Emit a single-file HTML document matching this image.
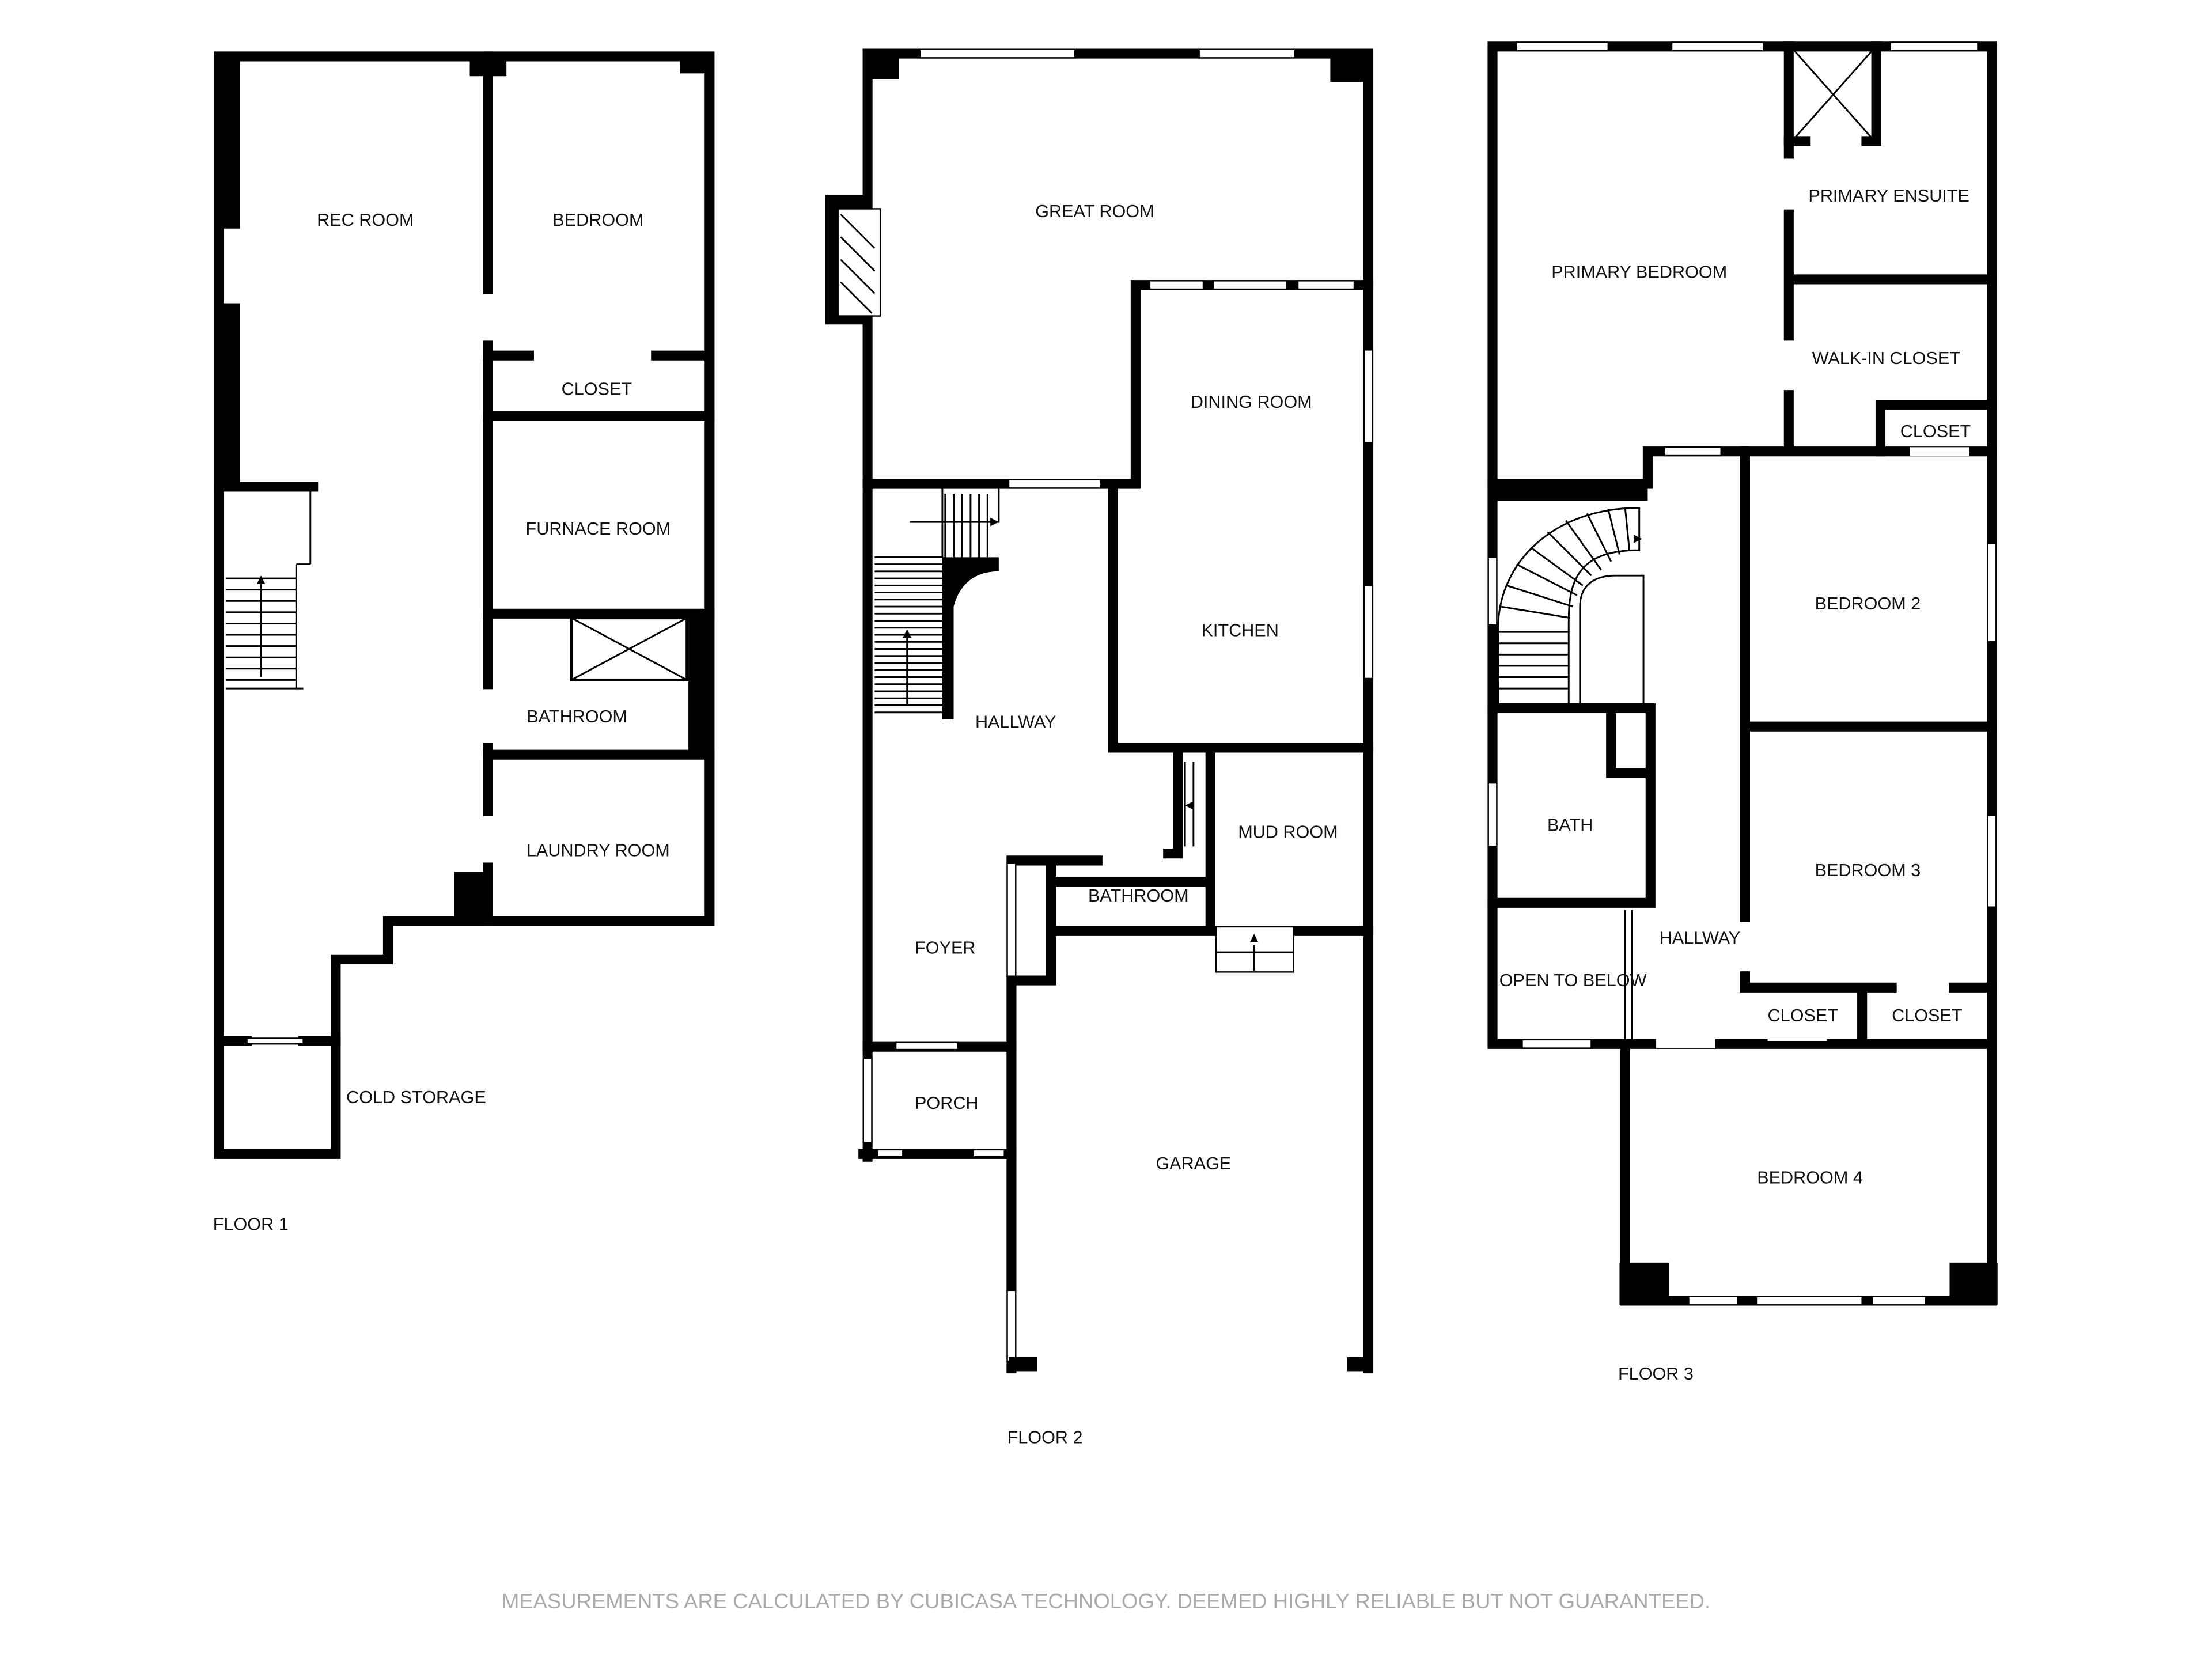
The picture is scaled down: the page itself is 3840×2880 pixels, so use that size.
<!DOCTYPE html>
<html><head><meta charset="utf-8"><style>
html,body{margin:0;padding:0;background:#fff}
svg{display:block}
text{font-family:"Liberation Sans",sans-serif;font-size:12.5px;fill:#111;text-anchor:middle}
.w{stroke:#000;stroke-width:7;fill:none;stroke-linecap:square}
.t{stroke:#000;stroke-width:1.2;fill:none}
.win{fill:#fff;stroke:#000;stroke-width:1}
</style></head><body>
<svg width="3840" height="2880" viewBox="0 0 1568 1176" xmlns="http://www.w3.org/2000/svg">
<rect width="1568" height="1176" fill="#fff"/>
<!-- FLOOR 1 -->
<g>
<path class="w" d="M155 40H503V653H275V680H238V818H155V40"/>
<rect x="152" y="37" width="18" height="125" fill="#000"/>
<rect x="152" y="215" width="18" height="128" fill="#000"/>
<rect x="322" y="618" width="24" height="38" fill="#000"/>
<rect x="333" y="40" width="26" height="14" fill="#000"/>
<rect x="482" y="40" width="20" height="12" fill="#000"/>
<path class="w" d="M346 40V205M346 245V485M346 530V575M346 615V653"/>
<path class="w" d="M346 295H503M346 435H503M346 535H503M346 252H375M465 252H500"/>
<rect x="488" y="435" width="15" height="100" fill="#000"/>
<rect x="405" y="438" width="82" height="44" fill="none" stroke="#000" stroke-width="2"/>
<path class="t" d="M405 438L487 482M487 438L405 482"/>
<path class="w" d="M155 345H222M155 738H175M215 738H238"/>
<rect x="175" y="736" width="40" height="4" class="win"/>
<path class="t" d="M220 345V400M210 400H220M210 400V488M160 488H215"/>
<path class="t" d="M160 410H210M160 418H210M160 426H210M160 434H210M160 442H210M160 450H210M160 458H210M160 466H210M160 474H210M160 482H210M185 412V480"/>
<path d="M185 408l-3 6h6z" fill="#000"/>
<text x="259" y="160">REC ROOM</text><text x="424" y="160">BEDROOM</text>
<text x="423" y="280">CLOSET</text><text x="424" y="379">FURNACE ROOM</text>
<text x="409" y="512">BATHROOM</text><text x="424" y="607">LAUNDRY ROOM</text>
<text x="295" y="782">COLD STORAGE</text>
<text x="151" y="872" style="text-anchor:start">FLOOR 1</text>
</g>
<!-- FLOOR 2 -->
<g>
<path class="w" d="M615 38H970V970M615 38V820"/>
<rect x="612" y="36" width="25" height="20" fill="#000"/>
<rect x="943" y="36" width="28" height="22" fill="#000"/>
<rect x="652" y="35" width="110" height="6" class="win"/><rect x="850" y="35" width="68" height="6" class="win"/>
<rect x="585" y="138" width="30" height="92" fill="#000"/>
<rect x="594" y="148" width="30" height="76" fill="#fff" stroke="#000"/>
<path class="t" d="M596 152L620 176M596 168L620 192M596 184L620 208M596 200L618 222"/>
<path class="w" d="M805 202V343H615M805 202H970M789 343V530H970"/>
<rect x="815" y="199" width="38" height="6" class="win"/><rect x="860" y="199" width="52" height="6" class="win"/><rect x="920" y="199" width="40" height="6" class="win"/>
<rect x="715" y="340" width="65" height="6" class="win"/>
<rect x="967" y="248" width="6" height="66" class="win"/><rect x="967" y="415" width="6" height="66" class="win"/>
<path class="w" d="M858 535V660M750 660H970M750 625H858V660M717 610H778M717 610V970M745 610V695H717M835 535V605H828"/>
<rect x="714" y="612" width="6" height="80" class="win"/><rect x="714" y="915" width="6" height="50" class="win"/>
<rect x="862" y="657" width="55" height="32" fill="#fff" stroke="#000"/>
<path class="t" d="M862 675H917M889 670V688"/><path d="M889 662l-3 6h6z"/>
<path class="w" d="M615 742H717M612 818H717"/>
<rect x="635" y="739" width="44" height="5" class="win"/><rect x="612" y="750" width="6" height="60" class="win"/><rect x="622" y="815" width="18" height="5" class="win"/><rect x="690" y="815" width="22" height="5" class="win"/>
<rect x="715" y="962" width="20" height="10" fill="#000"/><rect x="955" y="962" width="18" height="10" fill="#000"/>
<path class="t" d="M620 395H668V370H708V345M668 345V395M620 400H668M620 405H668M620 410H668M620 415H668M620 420H668M620 425H668M620 430H668M620 435H668M620 440H668M620 445H668M620 450H668M620 455H668M620 460H668M620 465H668M620 470H668M620 475H668M620 480H668M620 485H668M620 490H668M620 495H668M620 500H668M620 505H668M643 450V500M670 350V395M676 350V395M682 350V395M688 350V395M694 350V395M700 350V395M645 370H700"/>
<path d="M668 395H708V405C690 405 680 415 676 430V510H668Z" fill="#000"/>
<path d="M643 446l-3 6h6z M708 370l-6 -3v6z M840 571l6 -3v6z"/>
<path class="t" d="M840 540V600M846 540V600"/>
<text x="776" y="154">GREAT ROOM</text><text x="887" y="289">DINING ROOM</text>
<text x="879" y="451">KITCHEN</text><text x="720" y="516">HALLWAY</text>
<text x="913" y="594">MUD ROOM</text><text x="807" y="639">BATHROOM</text>
<text x="670" y="676">FOYER</text><text x="671" y="786">PORCH</text>
<text x="846" y="829">GARAGE</text>
<text x="714" y="1023" style="text-anchor:start">FLOOR 2</text>
</g>
<!-- FLOOR 3 -->
<g>
<path class="w" d="M1058 33H1412V735M1058 33V740H1412M1152 740V922H1412V735"/>
<rect x="1075" y="30" width="65" height="6" class="win"/><rect x="1185" y="30" width="65" height="6" class="win"/><rect x="1340" y="30" width="62" height="6" class="win"/>
<rect x="1148" y="895" width="35" height="30" fill="#000"/><rect x="1382" y="895" width="34" height="30" fill="#000"/>
<rect x="1197" y="919" width="35" height="6" class="win"/><rect x="1245" y="919" width="75" height="6" class="win"/><rect x="1327" y="919" width="38" height="6" class="win"/>
<path class="w" d="M1268 33V109M1268 152V238M1268 280V320M1268 198H1412M1170 320H1412M1058 343H1168V320"/>
<rect x="1058" y="340" width="110" height="15" fill="#000"/>
<path class="w" d="M1330 33V100H1323M1268 100H1280"/>
<path class="t" d="M1272 36L1327 98M1327 36L1272 98"/>
<path class="w" d="M1333 287H1412M1333 287V320"/>
<rect x="1354" y="317" width="42" height="6" fill="#fff"/>
<rect x="1180" y="317" width="40" height="6" class="win"/>
<path class="w" d="M1237 320V650M1237 692V700M1237 515H1412M1237 700H1341M1385 700H1412M1320 700V735"/>
<rect x="1409" y="385" width="6" height="70" class="win"/><rect x="1409" y="578" width="6" height="65" class="win"/>
<rect x="1253" y="731" width="42" height="7" fill="#fff"/><rect x="1174" y="736" width="42" height="7" fill="#fff"/><rect x="1079" y="737" width="49" height="6" class="win"/>
<path class="w" d="M1058 502H1170V640H1058M1142 502V548H1170"/>
<rect x="1055" y="395" width="6" height="48" class="win"/><rect x="1055" y="555" width="6" height="45" class="win"/>
<path class="t" d="M1152 645V740M1157 645V740"/>
<path class="t" d="M1062 500V445C1062 400 1100 360 1162 360V390C1120 390 1112 410 1112 440V500Z M1120 500V430C1120 415 1130 408 1145 408H1165V500Z"/>
<path class="t" d="M1062 448H1112M1062 456H1112M1062 464H1112M1062 472H1112M1062 480H1112M1062 488H1112M1064 430L1113 438M1068 415L1115 430M1075 400L1118 422M1085 388L1122 415M1097 377L1128 408M1110 369L1135 404M1125 364L1142 398M1140 361L1148 393M1152 360L1155 390"/>
<path d="M1164 382l-6 -3v6z"/>
<text x="1162" y="197">PRIMARY BEDROOM</text><text x="1339" y="143">PRIMARY ENSUITE</text>
<text x="1337" y="258">WALK-IN CLOSET</text><text x="1372" y="310">CLOSET</text>
<text x="1324" y="432">BEDROOM 2</text><text x="1324" y="621">BEDROOM 3</text>
<text x="1113" y="589">BATH</text><text x="1205" y="669">HALLWAY</text>
<text x="1115" y="699">OPEN TO BELOW</text>
<text x="1278" y="724">CLOSET</text><text x="1366" y="724">CLOSET</text>
<text x="1283" y="839">BEDROOM 4</text>
<text x="1147" y="978" style="text-anchor:start">FLOOR 3</text>
</g>
<text x="784" y="1140" style="font-size:14.9px;fill:#aaa">MEASUREMENTS ARE CALCULATED BY CUBICASA TECHNOLOGY. DEEMED HIGHLY RELIABLE BUT NOT GUARANTEED.</text>
</svg>
</body></html>
